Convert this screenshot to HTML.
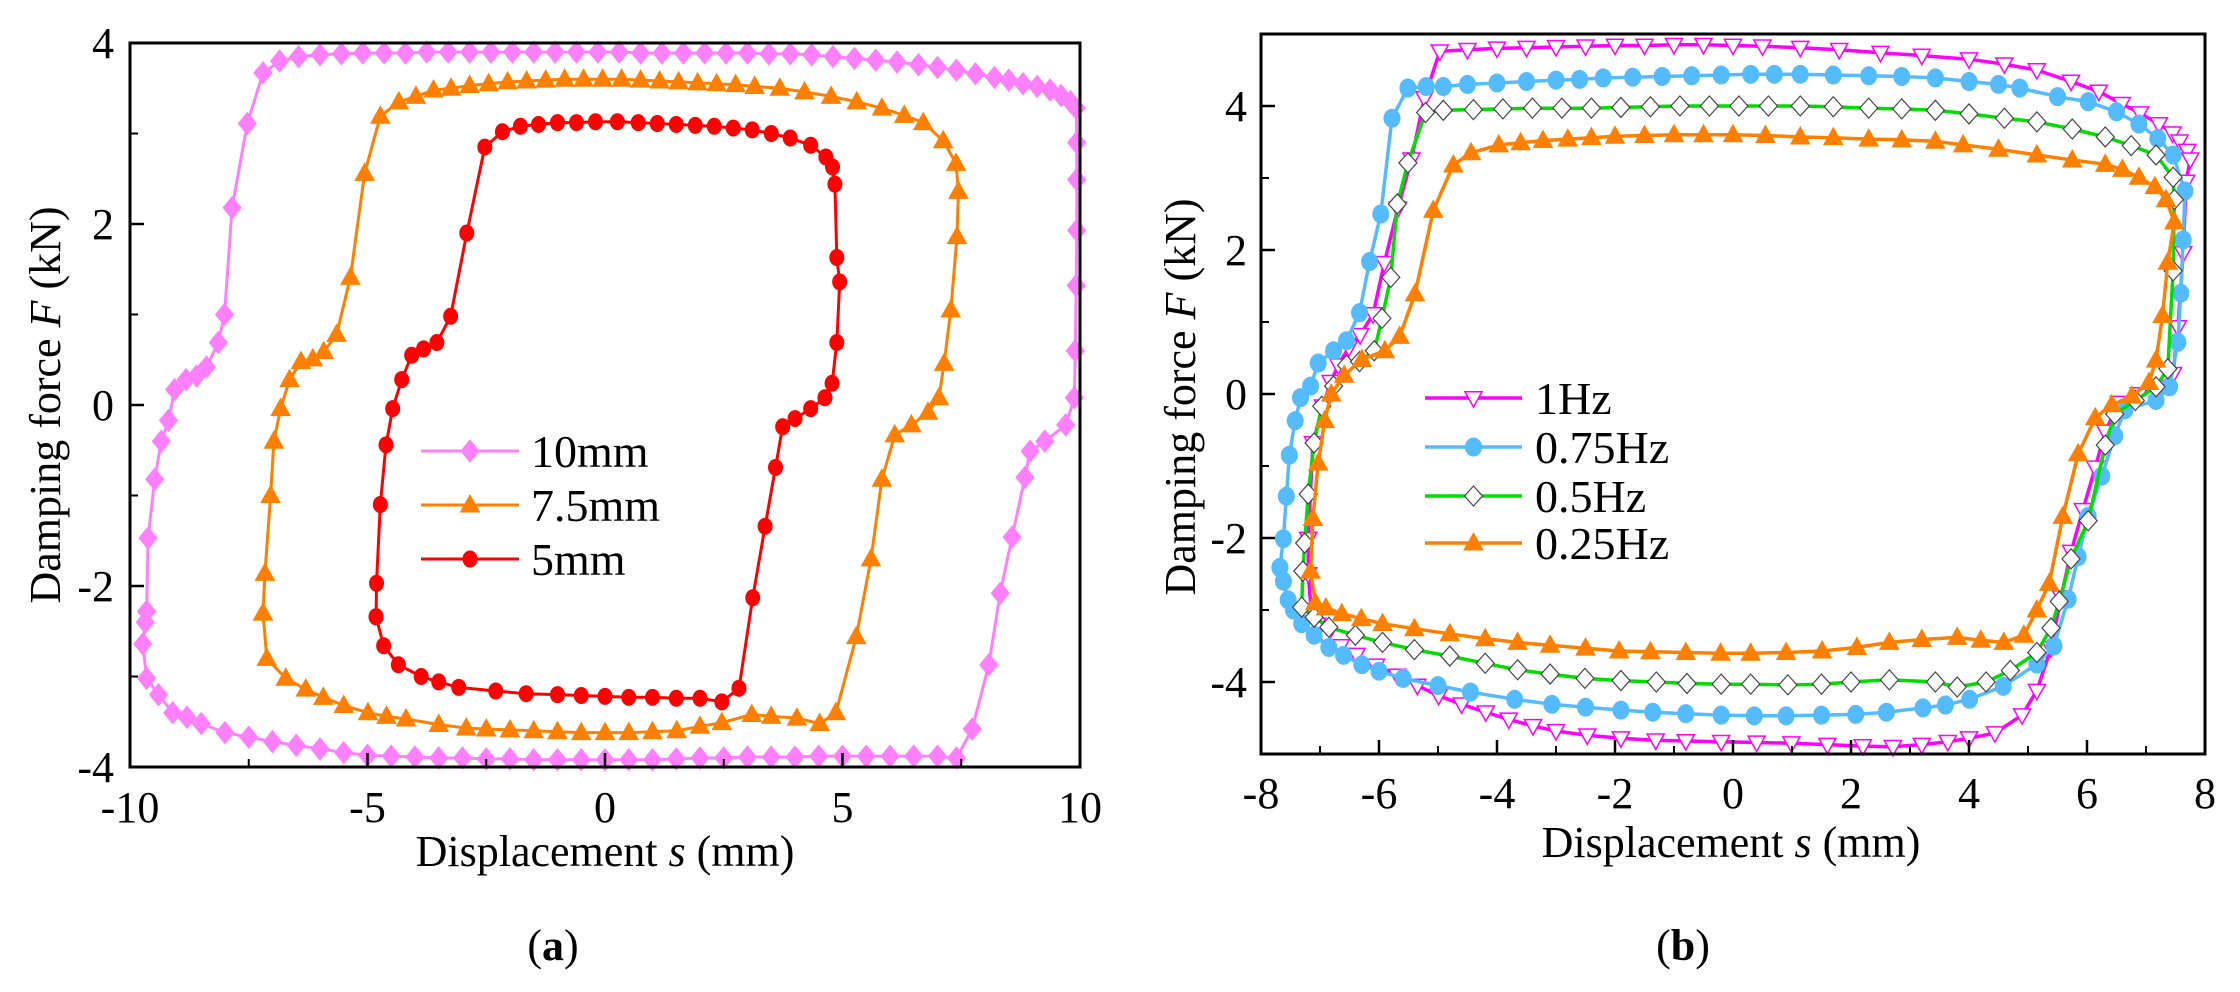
<!DOCTYPE html>
<html><head><meta charset="utf-8"><style>
html,body{margin:0;padding:0;background:#fff;}
svg{display:block;font-family:"Liberation Serif",serif;}
</style></head><body>
<svg id="fig" width="2240" height="992" viewBox="0 0 2240 992" xmlns="http://www.w3.org/2000/svg">
<rect width="2240" height="992" fill="#fff"/>
<g id="pa"></g>
<g id="pb"></g>
</svg>
<script>
// ---------- data: panel (a) ----------
const aXTicks = [-10,-5,0,5,10];
const aYTicks = [-4,-2,0,2,4];
const aLabels = ["10mm","7.5mm","5mm"];
const a10 = [[-9.65,-2.28],[-9.62,-1.47],[-9.48,-0.82],[-9.34,-0.40],[-9.19,-0.17],[-9.06,0.17],[-8.82,0.28],[-8.6,0.32],[-8.39,0.42],[-8.14,0.69],[-8.01,1.0],[-7.85,2.18],[-7.53,3.11],[-7.2,3.67],[-6.85,3.80],[-6.45,3.85],[-6.0,3.87],[-5.55,3.88],[-5.1,3.89],[-4.65,3.89],[-4.2,3.89],[-3.75,3.90],[-3.3,3.90],[-2.85,3.90],[-2.4,3.90],[-1.95,3.90],[-1.5,3.90],[-1.05,3.90],[-0.6,3.90],[-0.15,3.90],[0.3,3.90],[0.75,3.89],[1.2,3.89],[1.65,3.89],[2.1,3.89],[2.55,3.89],[3.0,3.89],[3.45,3.88],[3.9,3.88],[4.35,3.87],[4.8,3.85],[5.25,3.83],[5.7,3.81],[6.15,3.79],[6.6,3.76],[7.0,3.73],[7.4,3.70],[7.8,3.66],[8.2,3.62],[8.5,3.59],[8.8,3.55],[9.1,3.52],[9.37,3.48],[9.6,3.42],[9.8,3.35],[9.92,3.28],[9.93,2.9],[9.93,2.49],[9.93,1.93],[9.92,1.32],[9.9,0.60],[9.88,0.08],[9.7,-0.22],[9.26,-0.40],[8.95,-0.51],[8.84,-0.80],[8.57,-1.46],[8.32,-2.08],[8.08,-2.87],[7.73,-3.58],[7.4,-3.90],[7.0,-3.88],[6.5,-3.88],[6.0,-3.88],[5.5,-3.88],[5.0,-3.88],[4.5,-3.88],[4.0,-3.89],[3.5,-3.89],[3.0,-3.89],[2.5,-3.90],[2.0,-3.90],[1.5,-3.91],[1.0,-3.92],[0.5,-3.92],[0,-3.92],[-0.5,-3.92],[-1.0,-3.92],[-1.5,-3.92],[-2.0,-3.91],[-2.5,-3.91],[-3.0,-3.90],[-3.5,-3.90],[-4.0,-3.89],[-4.5,-3.88],[-5.0,-3.87],[-5.5,-3.84],[-6.0,-3.80],[-6.5,-3.76],[-7.0,-3.72],[-7.5,-3.67],[-8.0,-3.62],[-8.5,-3.52],[-8.8,-3.45],[-9.1,-3.40],[-9.4,-3.20],[-9.65,-3.02],[-9.73,-2.64],[-9.68,-2.40],[-9.65,-2.28]];
const a75 = [[-7.2,-2.30],[-7.16,-1.86],[-7.04,-1.00],[-6.97,-0.40],[-6.83,-0.04],[-6.64,0.28],[-6.40,0.48],[-6.15,0.51],[-5.92,0.59],[-5.65,0.78],[-5.36,1.41],[-5.06,2.56],[-4.73,3.19],[-4.34,3.35],[-3.98,3.41],[-3.61,3.48],[-3.24,3.50],[-2.85,3.53],[-2.45,3.55],[-2.05,3.57],[-1.65,3.58],[-1.25,3.59],[-0.85,3.60],[-0.45,3.60],[-0.05,3.60],[0.35,3.60],[0.75,3.59],[1.15,3.58],[1.55,3.57],[1.95,3.56],[2.35,3.55],[2.75,3.54],[3.15,3.52],[3.68,3.50],[4.2,3.46],[4.76,3.41],[5.3,3.35],[5.83,3.28],[6.3,3.20],[6.70,3.12],[7.12,2.92],[7.39,2.67],[7.44,2.36],[7.41,1.86],[7.28,1.05],[7.14,0.46],[7.03,0.08],[6.80,-0.08],[6.45,-0.22],[6.10,-0.33],[5.83,-0.82],[5.60,-1.70],[5.29,-2.56],[4.86,-3.40],[4.52,-3.52],[4.04,-3.46],[3.5,-3.44],[3.09,-3.42],[2.46,-3.51],[2.0,-3.55],[1.51,-3.60],[1.0,-3.61],[0.5,-3.62],[0,-3.62],[-0.5,-3.62],[-1.0,-3.61],[-1.5,-3.60],[-2.0,-3.59],[-2.5,-3.58],[-2.92,-3.57],[-3.5,-3.53],[-4.19,-3.47],[-4.6,-3.44],[-4.99,-3.40],[-5.5,-3.32],[-5.93,-3.23],[-6.3,-3.14],[-6.72,-3.02],[-7.12,-2.80],[-7.2,-2.30]];
const a5 = [[-4.82,-2.34],[-4.81,-1.97],[-4.73,-1.10],[-4.61,-0.44],[-4.47,-0.04],[-4.28,0.28],[-4.07,0.55],[-3.82,0.62],[-3.54,0.69],[-3.25,0.98],[-2.91,1.90],[-2.53,2.85],[-2.16,3.02],[-1.78,3.08],[-1.4,3.10],[-1.0,3.12],[-0.6,3.12],[-0.2,3.13],[0.26,3.13],[0.7,3.12],[1.1,3.11],[1.5,3.10],[1.9,3.09],[2.3,3.08],[2.7,3.06],[3.1,3.04],[3.5,3.0],[3.9,2.95],[4.33,2.87],[4.65,2.74],[4.79,2.63],[4.84,2.44],[4.88,1.63],[4.94,1.36],[4.88,0.69],[4.78,0.24],[4.63,0.08],[4.33,-0.04],[4.0,-0.15],[3.74,-0.24],[3.59,-0.69],[3.37,-1.34],[3.11,-2.13],[2.82,-3.13],[2.46,-3.28],[2.0,-3.24],[1.5,-3.24],[1.0,-3.23],[0.5,-3.23],[0,-3.22],[-0.5,-3.21],[-1.0,-3.20],[-1.66,-3.19],[-2.3,-3.16],[-3.08,-3.12],[-3.5,-3.06],[-3.87,-3.0],[-4.35,-2.87],[-4.66,-2.66],[-4.82,-2.34]];

// ---------- data: panel (b) ----------
const bXTicks = [-8,-6,-4,-2,0,2,4,6,8];
const bYTicks = [-4,-2,0,2,4];
const bLabels = ["1Hz","0.75Hz","0.5Hz","0.25Hz"];
const b1 = [[-7.2,-2.01],[-7.12,-0.68],[-6.95,-0.17],[-6.82,0.17],[-6.69,0.40],[-6.51,0.65],[-6.32,0.82],[-6.10,1.11],[-5.91,1.82],[-5.68,2.58],[-5.45,3.26],[-5.23,4.11],[-4.97,4.76],[-4.5,4.78],[-4.0,4.80],[-3.5,4.81],[-3.0,4.82],[-2.5,4.83],[-2.0,4.84],[-1.5,4.84],[-1.0,4.85],[-0.5,4.85],[0,4.84],[0.5,4.83],[1.14,4.81],[1.8,4.78],[2.5,4.74],[3.2,4.70],[4.0,4.65],[4.6,4.58],[5.15,4.50],[5.73,4.34],[6.2,4.20],[6.59,4.03],[6.9,3.90],[7.22,3.75],[7.45,3.62],[7.57,3.51],[7.7,3.38],[7.75,3.26],[7.68,2.95],[7.63,1.96],[7.54,0.93],[7.46,0.28],[7.22,0.10],[6.88,0.0],[6.54,-0.12],[6.31,-0.52],[6.14,-1.02],[5.93,-1.61],[5.73,-2.19],[5.56,-2.82],[5.39,-3.53],[5.15,-4.12],[4.90,-4.46],[4.44,-4.71],[4.0,-4.78],[3.64,-4.83],[3.2,-4.87],[2.71,-4.90],[2.2,-4.89],[1.6,-4.87],[0.99,-4.85],[0.4,-4.84],[-0.2,-4.83],[-0.8,-4.82],[-1.31,-4.81],[-1.9,-4.78],[-2.47,-4.74],[-3.0,-4.68],[-3.39,-4.61],[-3.8,-4.52],[-4.19,-4.42],[-4.6,-4.31],[-4.99,-4.19],[-5.35,-4.05],[-5.69,-3.91],[-6.05,-3.77],[-6.38,-3.62],[-6.65,-3.50],[-6.90,-3.38],[-7.05,-3.2],[-7.15,-3.0],[-7.2,-2.5],[-7.2,-2.01]];
const b075 = [[-7.68,-2.41],[-7.62,-2.01],[-7.57,-1.42],[-7.52,-0.85],[-7.42,-0.37],[-7.33,-0.05],[-7.16,0.11],[-7.03,0.43],[-6.77,0.60],[-6.55,0.74],[-6.33,1.13],[-6.16,1.84],[-5.97,2.50],[-5.78,3.83],[-5.51,4.25],[-5.2,4.27],[-4.91,4.27],[-4.5,4.30],[-4.0,4.32],[-3.5,4.34],[-3.0,4.36],[-2.6,4.37],[-2.2,4.39],[-1.7,4.40],[-1.2,4.41],[-0.7,4.42],[-0.2,4.43],[0.3,4.44],[0.7,4.44],[1.14,4.44],[1.7,4.43],[2.3,4.42],[2.86,4.41],[3.43,4.39],[4.0,4.34],[4.5,4.30],[4.86,4.25],[5.5,4.13],[6.02,4.06],[6.5,3.92],[6.88,3.75],[7.2,3.55],[7.46,3.32],[7.66,2.82],[7.63,2.14],[7.59,1.40],[7.54,0.72],[7.40,0.10],[7.17,-0.09],[6.64,-0.22],[6.47,-0.58],[6.25,-1.14],[6.02,-1.70],[5.85,-2.26],[5.68,-2.85],[5.44,-3.50],[5.15,-3.75],[4.58,-4.06],[4.01,-4.24],[3.6,-4.32],[3.22,-4.36],[2.6,-4.42],[2.08,-4.45],[1.5,-4.46],[0.9,-4.47],[0.36,-4.47],[-0.2,-4.46],[-0.8,-4.44],[-1.36,-4.42],[-1.9,-4.39],[-2.5,-4.35],[-3.07,-4.31],[-3.7,-4.24],[-4.45,-4.14],[-5.0,-4.05],[-5.59,-3.95],[-6.0,-3.85],[-6.29,-3.76],[-6.6,-3.63],[-6.85,-3.52],[-7.1,-3.35],[-7.31,-3.19],[-7.45,-3.0],[-7.54,-2.86],[-7.62,-2.6],[-7.68,-2.41]];
const b05 = [[-7.29,-2.46],[-7.26,-2.07],[-7.20,-1.39],[-7.10,-0.68],[-6.97,-0.17],[-6.77,0.11],[-6.55,0.40],[-6.33,0.45],[-6.08,0.60],[-5.95,1.05],[-5.80,1.62],[-5.69,2.64],[-5.51,3.21],[-5.21,3.91],[-4.91,3.94],[-4.4,3.95],[-3.9,3.96],[-3.4,3.97],[-2.9,3.97],[-2.4,3.97],[-1.9,3.98],[-1.4,3.99],[-0.9,4.0],[-0.4,4.0],[0.1,4.0],[0.6,4.0],[1.14,4.0],[1.7,3.99],[2.3,3.97],[2.86,3.96],[3.43,3.94],[4.0,3.89],[4.6,3.83],[5.15,3.78],[5.75,3.68],[6.31,3.57],[6.75,3.45],[7.17,3.32],[7.46,3.01],[7.48,2.70],[7.46,1.71],[7.37,0.35],[7.17,0.10],[6.82,-0.09],[6.47,-0.28],[6.31,-0.71],[6.02,-1.76],[5.73,-2.29],[5.53,-2.88],[5.39,-3.25],[5.15,-3.59],[4.70,-3.84],[4.29,-4.00],[3.80,-4.07],[3.43,-4.00],[2.65,-3.97],[2.0,-4.0],[1.5,-4.03],[0.93,-4.04],[0.3,-4.03],[-0.2,-4.03],[-0.78,-4.02],[-1.3,-4.0],[-1.9,-3.98],[-2.51,-3.95],[-3.1,-3.89],[-3.65,-3.83],[-4.2,-3.74],[-4.80,-3.64],[-5.4,-3.55],[-5.94,-3.45],[-6.4,-3.35],[-6.85,-3.24],[-7.1,-3.1],[-7.31,-2.96],[-7.29,-2.46]];
const b025 = [[-7.16,-2.46],[-7.12,-1.73],[-7.03,-0.96],[-6.92,-0.37],[-6.81,0.0],[-6.59,0.26],[-6.29,0.48],[-5.90,0.60],[-5.65,0.80],[-5.39,1.39],[-5.08,2.55],[-4.74,3.18],[-4.44,3.35],[-3.97,3.46],[-3.6,3.49],[-3.22,3.52],[-2.8,3.54],[-2.4,3.56],[-2.0,3.58],[-1.5,3.59],[-1.0,3.60],[-0.5,3.60],[0,3.60],[0.55,3.59],[1.14,3.57],[1.7,3.56],[2.3,3.54],[2.86,3.53],[3.43,3.51],[3.9,3.46],[4.5,3.40],[5.15,3.32],[5.75,3.25],[6.31,3.19],[6.6,3.12],[6.88,3.01],[7.15,2.88],[7.34,2.70],[7.48,2.39],[7.37,1.83],[7.28,1.09],[7.17,0.47],[7.05,0.16],[6.76,-0.03],[6.42,-0.15],[6.14,-0.33],[5.85,-0.83],[5.59,-1.70],[5.36,-2.63],[5.15,-3.0],[4.93,-3.35],[4.59,-3.45],[4.2,-3.42],[3.80,-3.38],[3.2,-3.41],[2.65,-3.45],[2.1,-3.52],[1.51,-3.57],[0.9,-3.59],[0.3,-3.60],[-0.21,-3.60],[-0.8,-3.59],[-1.4,-3.58],[-1.93,-3.57],[-2.5,-3.53],[-3.1,-3.49],[-3.65,-3.45],[-4.2,-3.40],[-4.80,-3.33],[-5.4,-3.26],[-5.94,-3.19],[-6.3,-3.12],[-6.63,-3.05],[-6.9,-2.97],[-7.08,-2.90],[-7.16,-2.46]];

const NS = "http://www.w3.org/2000/svg";
function mk(tag, attrs, parent){
  const e = document.createElementNS(NS, tag);
  for (const k in attrs) e.setAttribute(k, attrs[k]);
  parent.appendChild(e);
  return e;
}
function marker(g, shape, cx, cy, st){
  let e;
  if (shape === "diamond"){
    const w = st.w, h = st.h;
    e = mk("polygon", {points:`${cx},${cy-h} ${cx+w},${cy} ${cx},${cy+h} ${cx-w},${cy}`}, g);
  } else if (shape === "tri"){
    const s = st.s;
    e = mk("polygon", {points:`${cx},${cy-s} ${cx+s*0.95},${cy+s*0.7} ${cx-s*0.95},${cy+s*0.7}`}, g);
  } else if (shape === "tridown"){
    const s = st.s;
    e = mk("polygon", {points:`${cx-s*0.95},${cy-s*0.7} ${cx+s*0.95},${cy-s*0.7} ${cx},${cy+s}`}, g);
  } else {
    e = mk("ellipse", {cx:cx, cy:cy, rx:st.rx, ry:st.ry}, g);
  }
  e.setAttribute("fill", st.fill);
  e.setAttribute("stroke", st.stroke);
  e.setAttribute("stroke-width", st.sw);
  
  
  return e;
}
function drawSeries(g, pts, X, Y, color, lw, shape, st, name){
  const sg = mk("g", {}, g);
  
  
  const d = pts.map((p,i)=>(i?"L":"M")+X(p[0]).toFixed(1)+","+Y(p[1]).toFixed(1)).join(" ");
  const ln = mk("path", {d:d, fill:"none", stroke:color, "stroke-width":lw, "stroke-linejoin":"round"}, sg);
  
  
  pts.forEach(p => marker(sg, shape, X(p[0]), Y(p[1]), st));
}
function axes(g, L, R, T, B, X, Y, xt, yt, xMinor, yMinor, xLabY, yLabX, prefix){
  const fr = mk("rect", {x:L, y:T, width:R-L, height:B-T, fill:"none", stroke:"#000", "stroke-width":3}, g);
  
  
  xt.forEach(v => {
    const t = mk("line", {x1:X(v), x2:X(v), y1:B, y2:B-14, stroke:"#000", "stroke-width":2.5}, g);
    
    
    const tx = mk("text", {x:X(v), y:xLabY, "text-anchor":"middle", "font-size":44}, g);
    tx.textContent = v;
    
    
  });
  xMinor.forEach(v => {
    const t = mk("line", {x1:X(v), x2:X(v), y1:B, y2:B-8, stroke:"#000", "stroke-width":2}, g);
    
    
  });
  yt.forEach(v => {
    const t = mk("line", {x1:L, x2:L+14, y1:Y(v), y2:Y(v), stroke:"#000", "stroke-width":2.5}, g);
    
    
    const tx = mk("text", {x:yLabX, y:Y(v)+15, "text-anchor":"end", "font-size":44}, g);
    tx.textContent = v;
    
    
  });
  yMinor.forEach(v => {
    const t = mk("line", {x1:L, x2:L+8, y1:Y(v), y2:Y(v), stroke:"#000", "stroke-width":2}, g);
    
    
  });
}
function titles(g, xTx, xTy, yTx, yTy, capX, capY, cap, prefix){
  const xt = mk("text", {x:xTx, y:xTy, "text-anchor":"middle", "font-size":44}, g);
  xt.innerHTML = 'Displacement <tspan font-style="italic">s</tspan> (mm)';
  
  
  const yt = mk("text", {x:0, y:0, "text-anchor":"middle", "font-size":44, transform:`translate(${yTx},${yTy}) rotate(-90)`}, g);
  yt.innerHTML = 'Damping force <tspan font-style="italic">F</tspan> (kN)';
  
  
  const c = mk("text", {x:capX, y:capY, "text-anchor":"middle", "font-size":44}, g);
  c.innerHTML = '(<tspan font-weight="bold">' + cap + '</tspan>)';
  
  
}
function legend(g, x1, x2, tx, rows, labels, colors, shapes, styles, lw, prefix){
  rows.forEach((y,i) => {
    const lg = mk("g", {}, g);
    
    
    const l = mk("line", {x1:x1, x2:x2, y1:y, y2:y, stroke:colors[i], "stroke-width":lw}, lg);
    
    
    marker(lg, shapes[i], (x1+x2)/2, y, styles[i]);
    const t = mk("text", {x:tx, y:y+16, "font-size":46}, lg);
    t.textContent = labels[i];
    
    
  });
}

// ---------- panel (a) ----------
(function(){
  const g = document.getElementById("pa");
  const L=130, R=1080, T=43, B=767;
  const X = v => L + (v+10)*(R-L)/20;
  const Y = v => 405 - v*90.5;
  const stD = {w:9, h:11, fill:"#ff80ff", stroke:"#ff80ff", sw:1};
  const stT = {s:10, fill:"#ff8000", stroke:"#ff8000", sw:1};
  const stC = {rx:7, ry:8, fill:"#ff0000", stroke:"#ff0000", sw:1};
  drawSeries(g, a10, X, Y, "#ff80ff", 3, "diamond", stD, "series-10mm");
  drawSeries(g, a75, X, Y, "#ff8000", 3, "tri", stT, "series-7-5mm");
  drawSeries(g, a5, X, Y, "#ff0000", 3, "circle", stC, "series-5mm");
  axes(g, L, R, T, B, X, Y, aXTicks, aYTicks, [-7.5,-2.5,2.5,7.5], [-3,-1,1,3], 822, 114, "panel-a");
  titles(g, 605, 866, 60, 405, 553, 960, "a", "panel-a");
  legend(g, 421, 519, 531, [451,505,559], aLabels, ["#ff80ff","#ff8000","#ff0000"], ["diamond","tri","circle"], [stD, stT, stC], 3, "panel-a");
})();

// ---------- panel (b) ----------
(function(){
  const g = document.getElementById("pb");
  const L=1261, R=2205, T=34, B=754;
  const X = v => L + (v+8)*(R-L)/16;
  const Y = v => 394 - v*72;
  const st1 = {s:9, fill:"#fff", stroke:"#ff00ff", sw:1.5};
  const st075 = {rx:8, ry:9, fill:"#55bbff", stroke:"#55bbff", sw:1};
  const st05 = {w:9, h:10, fill:"#fff", stroke:"#444", sw:1.2};
  const st025 = {s:10, fill:"#ff8000", stroke:"#ff8000", sw:1};
  drawSeries(g, b1, X, Y, "#ff00ff", 3.5, "tridown", st1, "series-1hz");
  drawSeries(g, b075, X, Y, "#55bbff", 3.5, "circle", st075, "series-0-75hz");
  drawSeries(g, b05, X, Y, "#00dd00", 3.5, "diamond", st05, "series-0-5hz");
  drawSeries(g, b025, X, Y, "#ff8000", 3.5, "tri", st025, "series-0-25hz");
  axes(g, L, R, T, B, X, Y, bXTicks, bYTicks, [-7,-5,-3,-1,1,3,5,7], [-5,-3,-1,1,3,5], 808, 1247, "panel-b");
  titles(g, 1731, 857, 1195, 397, 1683, 960, "b", "panel-b");
  legend(g, 1425, 1522, 1535, [398,447,496,543], bLabels, ["#ff00ff","#55bbff","#00dd00","#ff8000"], ["tridown","circle","diamond","tri"], [st1, st075, st05, st025], 3.5, "panel-b");
})();
</script>
</body></html>
